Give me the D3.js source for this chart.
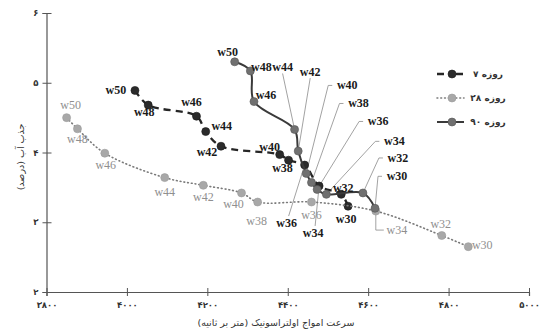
<!DOCTYPE html>
<html>
<head>
<meta charset="utf-8">
<script src="https://cdn.jsdelivr.net/npm/d3@7"></script>
<style>
  html, body { margin: 0; padding: 0; background: #fff; }
  svg { display: block; }
</style>
</head>
<body>
<svg id="chart" width="539" height="333"></svg>
<script>
// Curing-age series: ultrasonic pulse velocity (m/s) vs water absorption (%)
const weeks = ["w50", "w48", "w46", "w44", "w42", "w40", "w38", "w36", "w34", "w32", "w30"];

const speed7   = [4020, 4053, 4173, 4196, 4234, 4380, 4402, 4442, 4478, 4533, 4550];
const absorb7  = [4.89, 4.68, 4.52, 4.30, 4.09, 3.97, 3.89, 3.82, 3.52, 3.40, 3.23];

const speed28  = [3850, 3877, 3945, 4094, 4190, 4285, 4325, 4459, 4619, 4783, 4849];
const absorb28 = [4.50, 4.34, 3.99, 3.64, 3.53, 3.42, 3.29, 3.29, 3.16, 2.81, 2.65];

const speed90  = [4268, 4307, 4316, 4417, 4426, 4446, 4459, 4473, 4496, 4587, 4617];
const absorb90 = [5.30, 5.17, 4.73, 4.33, 4.02, 3.70, 3.57, 3.47, 3.40, 3.42, 3.20];

const seriesNames = ["۷ روزه", "۲۸ روزه", "۹۰ روزه"];
const xTicks = [3800, 4000, 4200, 4400, 4600, 4800, 5000];
const yTicks = [2, 3, 4, 5, 6];
const xTitle = "سرعت امواج اولتراسونیک (متر بر ثانیه)";
const yTitle = "جذب آب (درصد)";

// Label placement (pixel offsets from each point, plus leader style)
const labelLayout7 = [
  [-19, 0], [-4, 7], [-5, -14], [16, -6], [-14, 6], [-10, -8], [-6, 8],
  [-18, 58, "up"], [-6, 47, "up"], [2, -6], [-2, 13]
];
const labelLayout28 = [
  [4, -13], [0, 10], [1, 12], [0, 14], [0, 12], [-8, 11], [-1, 19],
  [0, 13], [21, 19, "elbow"], [-1, -12], [14, -2]
];
const labelLayout90 = [
  [-7, -10], [11, -4], [12, -7], [-12, -62, "down"], [12, -79, "down"],
  [41, -88, "side"], [47, -79, "side"], [61, -68, "side"], [68, -53, "side"],
  [35, -35, "side"], [22, -32, "side"]
];

const toPersian = s => String(s).replace(/\d/g, d => "۰۱۲۳۴۵۶۷۸۹"[+d]);

const svg = d3.select("#chart");
const x = d3.scaleLinear().domain([3800, 5000]).range([46.5, 529]);
const y = d3.scaleLinear().domain([2, 6]).range([292, 13]);

const axisColor = "#555";
const persianFont = "'DejaVu Sans', sans-serif";
const labelFont = "'Liberation Serif', 'Times New Roman', serif";

// Axes
const xAxis = svg.append("g").attr("transform", `translate(0,${y(2)})`)
  .call(d3.axisBottom(x).tickValues(xTicks).tickSize(4).tickFormat(d => toPersian(d)));
const yAxis = svg.append("g").attr("transform", `translate(${x(3800)},0)`)
  .call(d3.axisLeft(y).tickValues(yTicks).tickSize(4).tickFormat(d => toPersian(d)));

[xAxis, yAxis].forEach(g => {
  g.select(".domain").attr("stroke", axisColor).attr("stroke-width", 1.2);
  g.selectAll(".tick line").attr("stroke", axisColor).attr("stroke-width", 1);
  g.selectAll(".tick text").attr("fill", "#333").attr("font-family", persianFont)
    .attr("font-size", 8.5).attr("font-weight", "bold");
});
// ticks cross the axis line
xAxis.selectAll(".tick line").attr("y1", -4).attr("y2", 4);
xAxis.selectAll(".tick text").attr("y", 10);
yAxis.selectAll(".tick line").attr("x1", -4).attr("x2", 5);
yAxis.selectAll(".tick text").attr("x", -8);

// Axis titles
svg.append("text")
  .attr("x", 276).attr("y", 326)
  .attr("text-anchor", "middle")
  .attr("font-family", persianFont).attr("font-size", 9.5).attr("fill", "#333")
  .text(xTitle);
svg.append("text")
  .attr("transform", `translate(20,157) rotate(-90)`)
  .attr("text-anchor", "middle")
  .attr("dominant-baseline", "central")
  .attr("font-family", persianFont).attr("font-size", 9.5).attr("fill", "#333")
  .text(yTitle);

const series = [
  { name: seriesNames[0], xs: speed7, ys: absorb7, layout: labelLayout7,
    line: "#262626", width: 2.3, dash: "7,5", legendDash: "7,12,7", cap: "butt",
    dot: "#2b2b2b", dotStroke: "#1a1a1a", label: "#1a1a1a", weight: "bold" },
  { name: seriesNames[1], xs: speed28, ys: absorb28, layout: labelLayout28,
    line: "#7a7a7a", width: 1.6, dash: "0.8,3", legendDash: "0.8,3", cap: "round",
    dot: "#a8a8a8", dotStroke: "#9a9a9a", label: "#8f8f8f", weight: "normal" },
  { name: seriesNames[2], xs: speed90, ys: absorb90, layout: labelLayout90,
    line: "#3a3a3a", width: 2, dash: null, legendDash: null, cap: "butt",
    dot: "#707070", dotStroke: "#555", label: "#1a1a1a", weight: "bold" }
];

const lineGen = d3.line()
  .x(d => x(d.sx)).y(d => y(d.ay))
  .curve(d3.curveCatmullRom.alpha(0.5));

// Leader lines first, so the markers sit above them
const leaders = svg.append("g");
const marks = svg.append("g");
const labels = svg.append("g");

series.forEach(s => {
  const pts = weeks.map((w, i) => ({ w, sx: s.xs[i], ay: s.ys[i], lay: s.layout[i] }));

  marks.append("path")
    .attr("d", lineGen(pts))
    .attr("fill", "none")
    .attr("stroke", s.line)
    .attr("stroke-width", s.width)
    .attr("stroke-linecap", s.cap)
    .attr("stroke-dasharray", s.dash);

  marks.selectAll(null).data(pts).enter().append("circle")
    .attr("cx", d => x(d.sx)).attr("cy", d => y(d.ay)).attr("r", 4)
    .attr("fill", s.dot).attr("stroke", s.dotStroke).attr("stroke-width", 0.6);

  pts.forEach(d => {
    const px = x(d.sx), py = y(d.ay);
    const lx = px + d.lay[0], ly = py + d.lay[1];
    const kind = d.lay[2];
    let path = null;
    if (kind === "side") path = `M${lx - 15},${ly}H${lx - 19}L${px},${py}`;
    else if (kind === "down") path = `M${lx},${ly + 6}L${px},${py}`;
    else if (kind === "up") path = `M${lx + 2},${ly - 7}L${px},${py}`;
    else if (kind === "elbow") path = `M${px},${py}V${ly}H${lx - 13}`;
    if (path) {
      leaders.append("path").attr("d", path)
        .attr("fill", "none").attr("stroke", "#8a8a8a").attr("stroke-width", 0.8);
    }
    labels.append("text")
      .attr("x", lx).attr("y", ly)
      .attr("text-anchor", "middle")
      .attr("dominant-baseline", "central")
      .attr("font-family", labelFont)
      .attr("font-size", 12)
      .attr("font-weight", s.weight)
      .attr("fill", s.label)
      .text(d.w);
  });
});

// Legend
const legendRows = [74, 98, 122];
const legend = svg.append("g");
series.forEach((s, i) => {
  const ly = legendRows[i];
  legend.append("line")
    .attr("x1", 437).attr("x2", 464).attr("y1", ly).attr("y2", ly)
    .attr("stroke", s.line).attr("stroke-width", s.width)
    .attr("stroke-linecap", s.cap)
    .attr("stroke-dasharray", s.legendDash);
  legend.append("circle")
    .attr("cx", 452).attr("cy", ly).attr("r", 4)
    .attr("fill", s.dot).attr("stroke", s.dotStroke).attr("stroke-width", 0.6);
  legend.append("text")
    .attr("x", 488).attr("y", ly)
    .attr("text-anchor", "middle")
    .attr("dominant-baseline", "central")
    .attr("font-family", persianFont).attr("font-size", 9).attr("font-weight", "bold")
    .attr("fill", "#333")
    .text(s.name);
});
</script>
</body>
</html>
